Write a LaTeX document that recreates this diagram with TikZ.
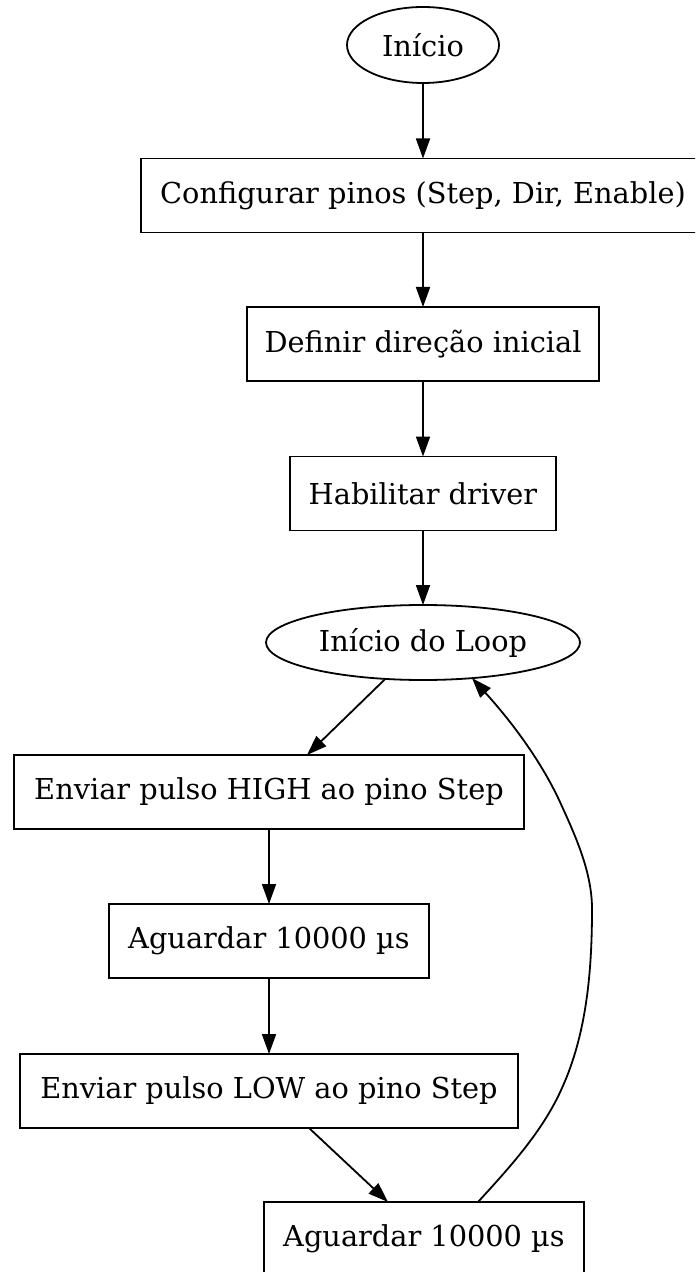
\documentclass[tikz,border=0pt]{standalone}
\usepackage{fontspec}
\setmainfont{DejaVu Serif}
\usetikzlibrary{shapes.geometric,arrows.meta,calc}
\begin{document}
\begin{tikzpicture}[x=0.5pt,y=-0.5pt,
  every node/.style={font=\fontsize{14.4pt}{17pt}\selectfont, inner sep=0pt, outer sep=0pt},
  box/.style={draw, line width=0.9pt, rectangle, minimum height=37pt},
  oval/.style={draw, line width=0.9pt, ellipse},
  arr/.style={draw, line width=0.9pt, -{Triangle[length=10pt,width=7pt]}}]

  % canvas
  \useasboundingbox (0,0) rectangle (695,1272);
  \fill[white] (0,0) rectangle (695,1272);
  \clip (0,0) rectangle (695,1272);

  % setup chain
  \node[oval, minimum width=76pt, minimum height=38pt] (inicio) at (423,45) {Início};
  \node[box, minimum width=282pt] (config) at (423,195.5) {Configurar pinos (Step, Dir, Enable)};
  \node[box, minimum width=176pt] (dir) at (423,344) {Definir direção inicial};
  \node[box, minimum width=133pt] (enable) at (423,493.5) {Habilitar driver};
  \node[oval, minimum width=157pt, minimum height=37.5pt] (loop) at (423,642.5) {Início do Loop};

  % pulse loop
  \node[box, minimum width=255pt] (high) at (269,792) {Enviar pulso HIGH ao pino Step};
  \node[box, minimum width=160pt] (wait1) at (269,941) {Aguardar 10000 µs};
  \node[box, minimum width=249pt] (low) at (269,1091) {Enviar pulso LOW ao pino Step};
  \node[box, minimum width=160pt] (wait2) at (424,1239) {Aguardar 10000 µs};

  % straight connectors
  \draw[arr] (inicio) -- (config);
  \draw[arr] (config) -- (dir);
  \draw[arr] (dir) -- (enable);
  \draw[arr] (enable) -- (loop);
  \draw[arr] (loop.-136) -- ($(high.north)+(38,0)$);
  \draw[arr] (high) -- (wait1);
  \draw[arr] (wait1) -- (low);
  \draw[arr] ($(low.south)+(40,0)$) -- ($(wait2.north)+(-36,0)$);

  % return edge of the loop
  \coordinate (r1) at (562,1088);
  \coordinate (r2) at (592,909);
  \coordinate (r3) at (560,802);
  \draw[arr] ($(wait2.north)+(54,0)$)
    .. controls (510,1167) and (543,1131) .. (r1)
    .. controls (587,1033) and (592,969) .. (r2)
    .. controls (592,872) and (575.5,836) .. (r3)
    .. controls (539,756.5) and (506.5,716) .. (loop.-36);
\end{tikzpicture}
\end{document}
